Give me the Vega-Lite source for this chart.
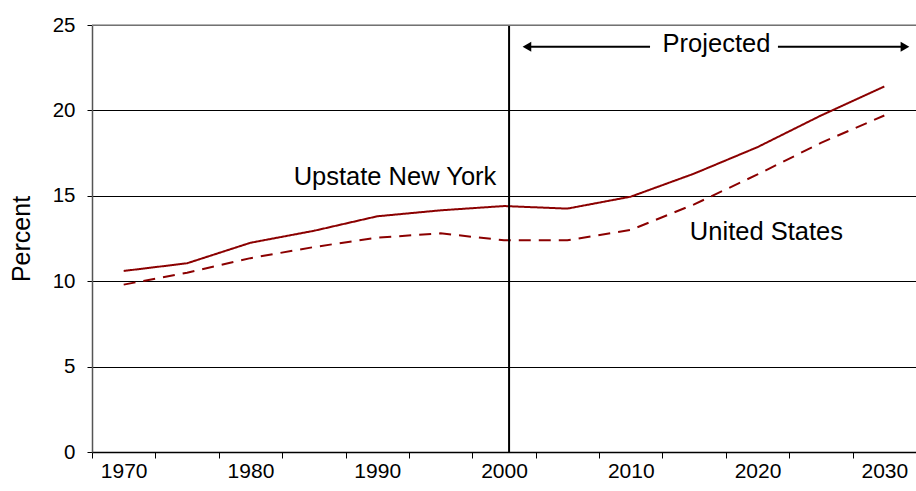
{
  "$schema": "https://vega.github.io/schema/vega-lite/v6.json",
  "width": 824,
  "height": 427,
  "autosize": {"type": "none"},
  "padding": {"left": 92, "top": 25, "right": 0, "bottom": 39},
  "background": "white",
  "config": {
    "font": "Liberation Sans",
    "view": {"stroke": null},
    "axis": {"labelFont": "Liberation Sans", "titleFont": "Liberation Sans", "labelColor": "black", "titleColor": "black"}
  },
  "datasets": {
    "series": [
      {"year": 1970, "value": 10.6, "region": "Upstate New York"},
      {"year": 1975, "value": 11.05, "region": "Upstate New York"},
      {"year": 1980, "value": 12.25, "region": "Upstate New York"},
      {"year": 1985, "value": 12.95, "region": "Upstate New York"},
      {"year": 1990, "value": 13.8, "region": "Upstate New York"},
      {"year": 1995, "value": 14.15, "region": "Upstate New York"},
      {"year": 2000, "value": 14.4, "region": "Upstate New York"},
      {"year": 2005, "value": 14.25, "region": "Upstate New York"},
      {"year": 2010, "value": 14.95, "region": "Upstate New York"},
      {"year": 2015, "value": 16.3, "region": "Upstate New York"},
      {"year": 2020, "value": 17.85, "region": "Upstate New York"},
      {"year": 2025, "value": 19.7, "region": "Upstate New York"},
      {"year": 2030, "value": 21.4, "region": "Upstate New York"},
      {"year": 1970, "value": 9.8, "region": "United States"},
      {"year": 1975, "value": 10.5, "region": "United States"},
      {"year": 1980, "value": 11.35, "region": "United States"},
      {"year": 1985, "value": 12.0, "region": "United States"},
      {"year": 1990, "value": 12.55, "region": "United States"},
      {"year": 1995, "value": 12.8, "region": "United States"},
      {"year": 2000, "value": 12.4, "region": "United States"},
      {"year": 2005, "value": 12.4, "region": "United States"},
      {"year": 2010, "value": 13.0, "region": "United States"},
      {"year": 2015, "value": 14.5, "region": "United States"},
      {"year": 2020, "value": 16.25, "region": "United States"},
      {"year": 2025, "value": 18.1, "region": "United States"},
      {"year": 2030, "value": 19.7, "region": "United States"}
    ],
    "labels": [
      {"year": 1991.4, "value": 15.63, "text": "Upstate New York"},
      {"year": 2020.7, "value": 12.41, "text": "United States"},
      {"year": 2016.76, "value": 23.42, "text": "Projected"}
    ],
    "arrows": [
      {"x1": 2001.81, "x2": 2011.52},
      {"x1": 2021.61, "x2": 2031.63}
    ],
    "heads": [
      {"year": 2001.81, "value": 23.73, "dir": "left"},
      {"year": 2031.63, "value": 23.73, "dir": "right"}
    ],
    "divider": [{"year": 2000.4}]
  },
  "layer": [
    {
      "data": {"name": "series"},
      "mark": {"type": "line", "strokeWidth": 2},
      "encoding": {
        "x": {
          "field": "year", "type": "quantitative",
          "scale": {"domain": [1967.5, 2032.5], "nice": false, "zero": false},
          "axis": {
            "values": [1970, 1980, 1990, 2000, 2010, 2020, 2030],
            "format": "d", "ticks": false, "grid": false, "domain": true,
            "domainColor": "black", "domainWidth": 1.5,
            "labelFontSize": 21, "labelPadding": 8, "title": null, "orient": "bottom"
          }
        },
        "y": {
          "field": "value", "type": "quantitative",
          "scale": {"domain": [0, 25], "nice": false},
          "axis": {
            "values": [0, 5, 10, 15, 20, 25],
            "grid": true, "gridColor": "black", "gridWidth": 1, "gridOpacity": 1,
            "domainColor": "#555", "domainWidth": 1.5,
            "tickColor": "black", "tickSize": 5, "labelFontSize": 20.5, "labelPadding": 12,
            "title": "Percent", "titleFontSize": 25, "titleFontWeight": "normal", "titlePadding": 18
          }
        },
        "color": {"field": "region", "type": "nominal", "scale": {"range": ["#8B0000", "#8B0000"]}, "legend": null},
        "strokeDash": {"field": "region", "type": "nominal", "scale": {"domain": ["Upstate New York", "United States"], "range": [[1, 0], [12, 8]]}, "legend": null}
      }
    },
    {
      "data": {"name": "divider"},
      "mark": {"type": "rule", "color": "black", "strokeWidth": 2},
      "encoding": {
        "x": {
          "field": "year", "type": "quantitative",
          "axis": {
            "values": [1967.5, 1972.5, 1977.5, 1982.5, 1987.5, 1992.5, 1997.5, 2002.5, 2007.5, 2012.5, 2017.5, 2022.5, 2027.5, 2032.5],
            "labels": false, "ticks": true, "tickSize": 6, "tickColor": "black", "domain": false, "grid": false, "title": null, "orient": "bottom"
          }
        }
      }
    },
    {
      "data": {"name": "arrows"},
      "mark": {"type": "rule", "color": "black", "strokeWidth": 2},
      "encoding": {
        "x": {"field": "x1", "type": "quantitative", "axis": null},
        "x2": {"field": "x2"},
        "y": {"datum": 23.73, "type": "quantitative"}
      }
    },
    {
      "data": {"name": "heads"},
      "mark": {"type": "point", "filled": true, "color": "black", "opacity": 1, "size": 100},
      "encoding": {
        "x": {"field": "year", "type": "quantitative", "axis": null},
        "y": {"field": "value", "type": "quantitative"},
        "shape": {"field": "dir", "type": "nominal", "scale": {"domain": ["left", "right"], "range": ["triangle-left", "triangle-right"]}, "legend": null}
      }
    },
    {
      "data": {"name": "labels"},
      "mark": {"type": "text", "fontSize": 25.5, "color": "black", "align": "center", "baseline": "alphabetic", "font": "Liberation Sans"},
      "encoding": {
        "x": {"field": "year", "type": "quantitative", "axis": null},
        "y": {"field": "value", "type": "quantitative"},
        "text": {"field": "text"}
      }
    },
    {
      "data": {"values": [{"v": 25}]},
      "mark": {"type": "rule", "color": "#999", "strokeWidth": 1.5},
      "encoding": {"y": {"field": "v", "type": "quantitative"}}
    }
  ],
  "resolve": {"axis": {"x": "independent"}}
}
